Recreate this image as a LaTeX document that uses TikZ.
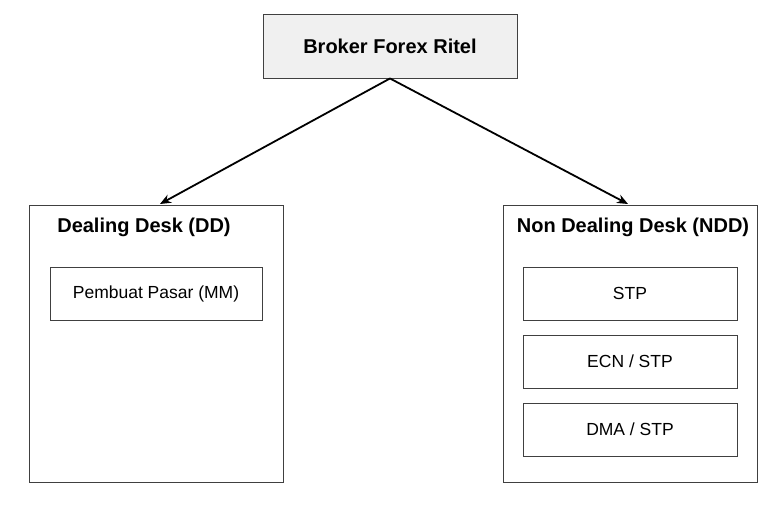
\documentclass[tikz,border=0pt]{standalone}
\usepackage{fontspec}
\setmainfont{Liberation Sans}
\usetikzlibrary{arrows.meta}
\begin{document}
\begin{tikzpicture}[x=1pt,y=-1pt,
  box/.style={draw=black!75,line width=0.9pt,inner sep=0pt},
  ttl/.style={font=\fontsize{20}{22}\selectfont\bfseries},
  lbl/.style={font=\fontsize{17.5}{20}\selectfont},
  arr/.style={-{Stealth[length=11pt,width=9pt]},line width=1.8pt}]
\useasboundingbox (0,0) rectangle (768,512);
\node[box,fill=black!6,minimum width=254pt,minimum height=64pt,ttl] (top) at (390,46) {Broker Forex Ritel};
\node[box,minimum width=254pt,minimum height=277pt] (dd) at (156,343.5) {};
\node[box,minimum width=254pt,minimum height=277pt] (ndd) at (630,343.5) {};
\node[ttl] (ddt) at (144,227) {Dealing Desk (DD)};
\node[ttl] (nddt) at (633,227) {Non Dealing Desk (NDD)};
\node[box,minimum width=212pt,minimum height=53pt,lbl] (mm) at (156,293.5) {Pembuat Pasar (MM)};
\node[box,minimum width=214pt,minimum height=53pt,lbl] (stp) at (630,293.5) {STP};
\node[box,minimum width=214pt,minimum height=53pt,lbl] (ecn) at (630,361.5) {ECN / STP};
\node[box,minimum width=214pt,minimum height=53pt,lbl] (dma) at (630,429.5) {DMA / STP};
\coordinate (ta) at (160,204);
\coordinate (tb) at (628,204);
\draw[arr] (top.south) -- (ta);
\draw[arr] (top.south) -- (tb);
\end{tikzpicture}
\end{document}
